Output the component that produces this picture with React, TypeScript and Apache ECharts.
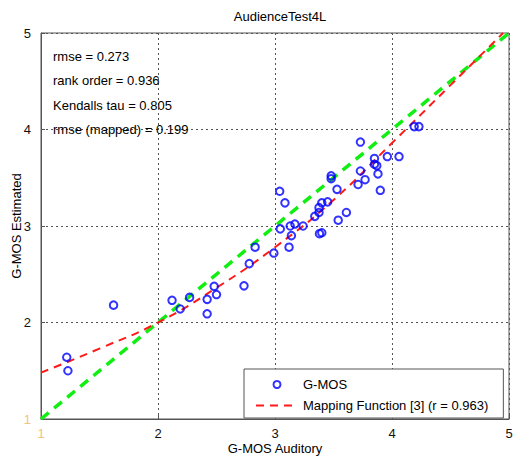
import React, { useEffect, useRef } from "react";
import * as echarts from "echarts";

const chartTitle = "AudienceTest4L";
const xAxisName = "G-MOS Auditory";
const yAxisName = "G-MOS Estimated";
const scatterName = "G-MOS";
const mappingName = "Mapping Function [3] (r = 0.963)";
const statsLabels = [
  "rmse = 0.273",
  "rank order = 0.936",
  "Kendalls tau = 0.805",
  "rmse (mapped) = 0.199",
];

// G-MOS scatter points
const gmosAuditory = [
  1.22, 1.23, 1.62, 2.12, 2.19, 2.27, 2.42, 2.42, 2.48, 2.5,
  2.735, 2.78, 2.83, 2.99, 3.04, 3.085, 3.045, 3.12, 3.14, 3.13,
  3.17, 3.24, 3.34, 3.376, 3.376, 3.4, 3.45, 3.38, 3.4, 3.48,
  3.48, 3.53, 3.54, 3.61, 3.71, 3.73, 3.73, 3.77, 3.85, 3.85,
  3.87, 3.88, 3.9, 3.96, 4.06, 4.19, 4.23,
];
const gmosEstimated = [
  1.64, 1.5, 2.18, 2.23, 2.14, 2.26, 2.24, 2.09, 2.375, 2.29,
  2.38, 2.61, 2.78, 2.72, 3.36, 3.24, 2.97, 2.78, 2.9, 3.0,
  3.02, 3.0, 3.1, 3.14, 3.19, 3.24, 3.25, 2.92, 2.93, 3.52,
  3.49, 3.38, 3.06, 3.14, 3.43, 3.57, 3.87, 3.48, 3.7, 3.64,
  3.625, 3.54, 3.37, 3.72, 3.72, 4.03, 4.03,
];

// mapping function curve
const mappingX = [1.0, 1.5, 2.0, 2.5, 3.0, 3.5, 4.0, 4.5, 4.95];
const mappingY = [1.48, 1.73, 2.0, 2.36, 2.78, 3.27, 3.86, 4.46, 5.0];

// identity line
const identityX = [1, 5];
const identityY = [1, 5];

const FONT = "Liberation Sans, Arial, sans-serif";

export default function App() {
  const ref = useRef<HTMLDivElement>(null);
  useEffect(() => {
    document.body.style.margin = "0";
    if (!ref.current) return;
    const chart = echarts.init(ref.current, null, { renderer: "svg" });
    const scatterData = gmosAuditory.map((x, i) => [x, gmosEstimated[i]]);
    const mappingData = mappingX.map((x, i) => [x, mappingY[i]]);
    const identityData = identityX.map((x, i) => [x, identityY[i]]);
    const labelColor = (v: any) => (Number(v) === 1 ? "#f2c27a" : "#111");
    chart.setOption({
      animation: false,
      backgroundColor: "#fff",
      textStyle: { fontFamily: FONT },
      title: {
        text: chartTitle,
        left: 275,
        top: 5,
        textAlign: "center",
        textStyle: { fontSize: 13, fontWeight: "normal", color: "#000", fontFamily: FONT },
      },
      grid: {
        left: 41,
        right: 4,
        top: 33,
        bottom: 38,
        outerBoundsMode: "none",
        containLabel: false,
        show: true,
        borderColor: "#555",
        borderWidth: 1,
        backgroundColor: "#fff",
      },
      xAxis: {
        type: "value",
        min: 1,
        max: 5,
        interval: 1,
        name: xAxisName,
        nameLocation: "middle",
        nameGap: 23,
        nameMoveOverlap: false,
        nameTextStyle: { fontSize: 13, color: "#000", fontFamily: FONT },
        axisLine: { show: true, lineStyle: { color: "#555" } },
        axisTick: { show: true, inside: true, length: 4, lineStyle: { color: "#555" } },
        axisLabel: { fontSize: 13, margin: 8, color: labelColor, fontFamily: FONT },
        splitLine: { show: true, lineStyle: { type: [2, 3], color: "#555", width: 1 } },
      },
      yAxis: {
        type: "value",
        min: 1,
        max: 5,
        interval: 1,
        name: yAxisName,
        nameLocation: "middle",
        nameGap: 18,
        nameMoveOverlap: false,
        nameTextStyle: { fontSize: 13, color: "#000", fontFamily: FONT },
        axisLine: { show: true, lineStyle: { color: "#555" } },
        axisTick: { show: true, inside: true, length: 4, lineStyle: { color: "#555" } },
        axisLabel: { fontSize: 13, margin: 10, color: labelColor, fontFamily: FONT },
        splitLine: { show: true, lineStyle: { type: [2, 3], color: "#555", width: 1 } },
      },
      legend: {
        orient: "vertical",
        left: 244,
        top: 369,
        itemWidth: 42,
        itemHeight: 7,
        itemGap: 8,
        padding: [9, 15, 6, 11],
        borderColor: "#555",
        borderWidth: 1,
        backgroundColor: "#fff",
        textStyle: { fontSize: 13, color: "#000", fontFamily: FONT },
        data: [
          { name: scatterName },
          { name: mappingName, itemStyle: { color: "rgba(0,0,0,0)", opacity: 0 } },
        ],
      },
      graphic: statsLabels.map((t, i) => ({
        type: "text",
        left: 53,
        top: 50 + i * 24.3,
        style: { text: t, fontSize: 13, fill: "#000", fontFamily: FONT },
        z: 10,
      })),
      series: [
        {
          name: "identity",
          type: "line",
          data: identityData,
          symbol: "none",
          lineStyle: { color: "#11ee11", width: 3.5, type: [10, 7] },
          z: 2,
        },
        {
          name: mappingName,
          type: "line",
          data: mappingData,
          smooth: true,
          symbol: "none",
          lineStyle: { color: "#ff1a1a", width: 2, type: [8, 6] },
          itemStyle: { color: "#ff1a1a" },
          z: 3,
        },
        {
          name: scatterName,
          type: "scatter",
          data: scatterData,
          symbol: "circle",
          symbolSize: 7.5,
          itemStyle: { color: "rgba(0,0,0,0)", borderColor: "#0000ff", borderWidth: 2 },
          z: 4,
        },
      ],
    });
    return () => chart.dispose();
  }, []);
  return <div ref={ref} style={{ width: 513, height: 457 }} />;
}
